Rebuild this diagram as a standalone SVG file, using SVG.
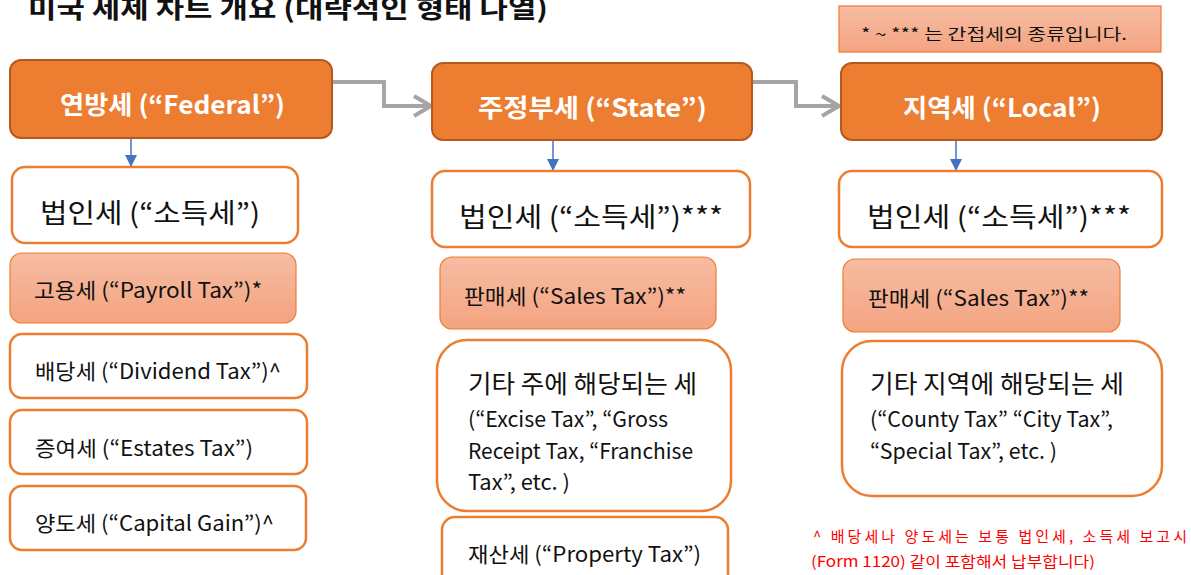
<svg xmlns="http://www.w3.org/2000/svg" width="1191" height="575" viewBox="0 0 1191 575">
<defs>
<linearGradient id="sal" x1="0" y1="0" x2="0" y2="1">
<stop offset="0" stop-color="#F6BCA2"/>
<stop offset="1" stop-color="#F4A481"/>
</linearGradient>
<marker id="chev" markerUnits="userSpaceOnUse" markerWidth="26" markerHeight="28" viewBox="0 0 26 28" refX="21" refY="14" orient="auto">
<path d="M3,4 L20,14 L3,24" fill="none" stroke="#A5A5A5" stroke-width="4"/>
</marker>
<marker id="tri" markerUnits="userSpaceOnUse" markerWidth="14" markerHeight="12" viewBox="0 0 14 12" refX="12" refY="6" orient="auto">
<path d="M0,0 L12,6 L0,12 Z" fill="#4472C4"/>
</marker>
</defs>
<style>
text{font-family:"Noto Sans CJK KR","Noto Sans",sans-serif;fill:#111}
.hdr rect{fill:#ED7D31;stroke:#B5591F;stroke-width:2}
.hdr text{fill:#fff;font-weight:bold;font-size:25px}
.wb{fill:#fff;stroke:#ED7D31;stroke-width:2.5}
.gb{fill:url(#sal);stroke:#ED7D31;stroke-width:1.2}
.big{font-size:27px}
.mid{font-size:21px}
.lg{font-size:25px}
.red{fill:#FF0000;font-size:15px}
.gl{fill:none;stroke:#A5A5A5;stroke-width:4;marker-end:url(#chev)}
.bl{fill:none;stroke:#4472C4;stroke-width:1.5;marker-end:url(#tri)}
</style>

<text x="28" y="18" font-size="26" font-weight="bold" textLength="520" lengthAdjust="spacingAndGlyphs">미국 세제 차트 개요 (대략적인 형태 나열)</text>

<g id="note">
<rect x="839" y="6" width="322" height="46" fill="url(#sal)" stroke="#ED7D31" stroke-width="1.2"/>
<text x="861" y="40" font-size="16" textLength="266" lengthAdjust="spacingAndGlyphs">* ~ *** 는 간접세의 종류입니다.</text>
</g>

<g id="connectors">
<path class="gl" d="M332,82 H384 V106 H432"/>
<path class="gl" d="M752,82 H796 V106 H840"/>
<path class="bl" d="M131,139 V167"/>
<path class="bl" d="M553,141 V171"/>
<path class="bl" d="M956,141 V171"/>
</g>

<g id="federal" class="hdr">
<rect x="10" y="60" width="322" height="78" rx="11"/>
<text x="60" y="114" textLength="225" lengthAdjust="spacingAndGlyphs">연방세 (“Federal”)</text>
</g>
<g id="state" class="hdr">
<rect x="432" y="63" width="320" height="77" rx="11"/>
<text x="478" y="117" textLength="229" lengthAdjust="spacingAndGlyphs">주정부세 (“State”)</text>
</g>
<g id="local" class="hdr">
<rect x="841" y="63" width="321" height="77" rx="11"/>
<text x="903" y="117" textLength="198" lengthAdjust="spacingAndGlyphs">지역세 (“Local”)</text>
</g>

<g id="fed-corp">
<rect class="wb" x="12" y="167" width="286" height="76" rx="13"/>
<text class="big" x="40" y="223" textLength="220" lengthAdjust="spacingAndGlyphs">법인세 (“소득세”)</text>
</g>
<g id="fed-payroll">
<rect class="gb" x="10" y="253" width="286" height="70" rx="12"/>
<text class="mid" x="34" y="298" textLength="228" lengthAdjust="spacingAndGlyphs">고용세 (“Payroll Tax”)*</text>
</g>
<g id="fed-dividend">
<rect class="wb" x="10" y="334" width="297" height="64" rx="12"/>
<text class="mid" x="35" y="379" textLength="246" lengthAdjust="spacingAndGlyphs">배당세 (“Dividend Tax”)^</text>
</g>
<g id="fed-estates">
<rect class="wb" x="10" y="410" width="297" height="64" rx="12"/>
<text class="mid" x="35" y="456" textLength="218" lengthAdjust="spacingAndGlyphs">증여세 (“Estates Tax”)</text>
</g>
<g id="fed-capital">
<rect class="wb" x="10" y="486" width="296" height="64" rx="12"/>
<text class="mid" x="35" y="531" textLength="239" lengthAdjust="spacingAndGlyphs">양도세 (“Capital Gain”)^</text>
</g>

<g id="state-corp">
<rect class="wb" x="432" y="171" width="318" height="76" rx="13"/>
<text class="big" x="459" y="227" textLength="264" lengthAdjust="spacingAndGlyphs">법인세 (“소득세”)***</text>
</g>
<g id="state-sales">
<rect class="gb" x="440" y="257" width="276" height="72" rx="12"/>
<text class="mid" x="464" y="304" textLength="222" lengthAdjust="spacingAndGlyphs">판매세 (“Sales Tax”)**</text>
</g>
<g id="state-other">
<rect class="wb" x="437" y="340" width="294" height="171" rx="30"/>
<text class="lg" x="468" y="393" textLength="229" lengthAdjust="spacingAndGlyphs">기타 주에 해당되는 세</text>
<text class="mid" x="468" y="427" textLength="200" lengthAdjust="spacingAndGlyphs">(“Excise Tax”, “Gross</text>
<text class="mid" x="468" y="459" textLength="225" lengthAdjust="spacingAndGlyphs">Receipt Tax, “Franchise</text>
<text class="mid" x="468" y="490" textLength="102" lengthAdjust="spacingAndGlyphs">Tax”, etc. )</text>
</g>
<g id="state-property">
<rect class="wb" x="442" y="517" width="286" height="80" rx="13"/>
<text class="mid" x="468" y="562" textLength="233" lengthAdjust="spacingAndGlyphs">재산세 (“Property Tax”)</text>
</g>

<g id="local-corp">
<rect class="wb" x="839" y="171" width="323" height="76" rx="13"/>
<text class="big" x="867" y="227" textLength="264" lengthAdjust="spacingAndGlyphs">법인세 (“소득세”)***</text>
</g>
<g id="local-sales">
<rect class="gb" x="843" y="259" width="277" height="73" rx="12"/>
<text class="mid" x="868" y="306" textLength="221" lengthAdjust="spacingAndGlyphs">판매세 (“Sales Tax”)**</text>
</g>
<g id="local-other">
<rect class="wb" x="842" y="341" width="320" height="155" rx="30"/>
<text class="lg" x="870" y="393" textLength="254" lengthAdjust="spacingAndGlyphs">기타 지역에 해당되는 세</text>
<text class="mid" x="870" y="427" textLength="243" lengthAdjust="spacingAndGlyphs">(“County Tax” “City Tax”,</text>
<text class="mid" x="870" y="459" textLength="187" lengthAdjust="spacingAndGlyphs">“Special Tax”, etc. )</text>
</g>

<g id="footnote">
<text class="red" x="813" y="542" textLength="374" lengthAdjust="spacing">^ 배당세나 양도세는 보통 법인세, 소득세 보고시</text>
<text class="red" x="811" y="567" textLength="284" lengthAdjust="spacingAndGlyphs">(Form 1120) 같이 포함해서 납부합니다)</text>
</g>
</svg>
